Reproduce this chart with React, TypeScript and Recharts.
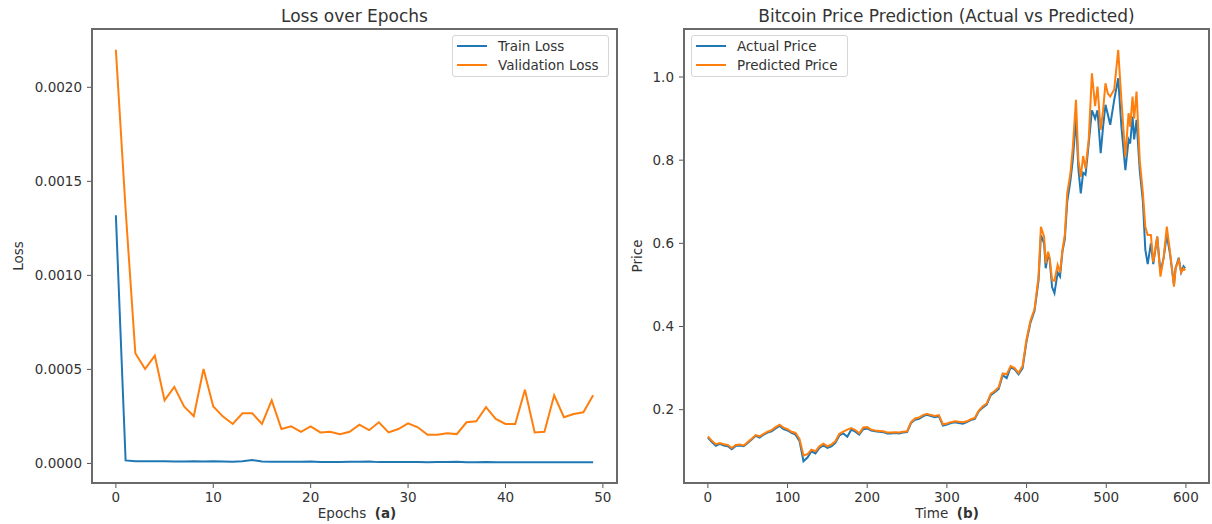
import React from 'react';
import { LineChart, Line, XAxis, YAxis, Legend } from 'recharts';

// ---- (a) loss per epoch ----
const trainLoss = [
  0.00132, 0.000016, 0.000012, 0.000011, 0.000011, 0.000011, 0.00001, 0.00001, 0.000011, 0.00001,
  0.000011, 0.00001, 0.000009, 0.000012, 0.000018, 0.00001, 0.000009, 0.000009, 0.000009, 0.000009,
  0.00001, 0.000008, 0.000007, 0.000008, 0.000009, 0.000009, 0.00001, 0.000007, 0.000007, 0.000008,
  0.000008, 0.000007, 0.000006, 0.000007, 0.000008, 0.000009, 0.000006, 0.000006, 0.000007, 0.000006,
  0.000006, 0.000006, 0.000006, 0.000006, 0.000006, 0.000006, 0.000006, 0.000006, 0.000006, 0.000006,
];
const valLoss = [
  0.0022, 0.00135, 0.000586, 0.000502, 0.000573, 0.000335, 0.000407, 0.000303, 0.000251, 0.000502,
  0.000303, 0.000249, 0.00021, 0.000267, 0.000267, 0.00021, 0.000335, 0.000183, 0.000197, 0.000168,
  0.000197, 0.000165, 0.000168, 0.000156, 0.000168, 0.000206, 0.000177, 0.000219, 0.000165, 0.000183,
  0.000213, 0.000192, 0.000152, 0.000152, 0.000161, 0.000156, 0.000219, 0.000224, 0.000299, 0.000237,
  0.00021, 0.00021, 0.000392, 0.000165, 0.000168, 0.000362, 0.000246, 0.000263, 0.000272, 0.000362,
];
const lossTicksX = [0, 10, 20, 30, 40, 50];
const lossTicksY = [0, 0.0005, 0.001, 0.0015, 0.002];

// ---- (b) price, actual vs predicted ----
const timeSteps = [
  0, 5, 10, 15, 20, 25, 30, 35, 40, 45,
  50, 55, 60, 65, 70, 75, 80, 85, 90, 95,
  100, 105, 110, 115, 120, 125, 130, 135, 140, 145,
  150, 155, 160, 165, 170, 175, 180, 185, 190, 195,
  200, 205, 210, 215, 220, 225, 230, 235, 240, 245,
  250, 255, 260, 265, 270, 275, 280, 285, 290, 295,
  300, 305, 310, 315, 320, 325, 330, 335, 340, 345,
  350, 355, 360, 365, 370, 375, 380, 385, 390, 395,
  400, 405, 410,
  415, 418, 422, 424, 427, 429, 432, 435, 439, 442,
  445, 448, 451, 455, 458, 462, 465, 468, 471, 474,
  478, 482, 486, 489, 493, 496, 499, 502, 505, 510,
  515, 519, 524, 528, 530, 533, 535, 538, 542, 546,
  549, 552, 556, 559, 564, 568, 572, 576, 580, 585,
  587, 591, 594, 597, 599,
];
const actualPrice = [
  0.133, 0.122, 0.113, 0.118, 0.114, 0.112, 0.105, 0.113, 0.114, 0.112,
  0.12, 0.128, 0.137, 0.133, 0.14, 0.145, 0.148, 0.155, 0.161, 0.153,
  0.15, 0.144, 0.14, 0.125, 0.076, 0.085, 0.1, 0.095, 0.108, 0.114,
  0.108, 0.112, 0.12, 0.138, 0.143, 0.135, 0.152, 0.147, 0.14, 0.153,
  0.155, 0.15, 0.148, 0.147, 0.146, 0.143, 0.143, 0.144, 0.143, 0.145,
  0.146, 0.168, 0.176, 0.178, 0.184, 0.188, 0.185, 0.182, 0.184, 0.162,
  0.164, 0.168, 0.17, 0.168, 0.166, 0.17, 0.175, 0.178, 0.196, 0.205,
  0.212, 0.235, 0.242, 0.25, 0.283, 0.276, 0.302, 0.297, 0.285, 0.3,
  0.365, 0.41, 0.438,
  0.51, 0.62, 0.6, 0.54, 0.575, 0.56, 0.495, 0.48, 0.53, 0.52,
  0.58, 0.61, 0.7, 0.75, 0.8, 0.9, 0.78, 0.72, 0.77, 0.765,
  0.84, 0.92, 0.9, 0.92, 0.817, 0.88, 0.933, 0.91, 0.885, 0.945,
  0.997, 0.881, 0.776, 0.849, 0.84, 0.905, 0.85, 0.897, 0.776, 0.7,
  0.585, 0.55, 0.6, 0.55, 0.616, 0.53, 0.565, 0.62, 0.575, 0.5,
  0.54, 0.565, 0.53, 0.545, 0.54,
];
const predictedPrice = [
  0.136, 0.125, 0.117, 0.12, 0.117, 0.115, 0.108, 0.115, 0.116, 0.114,
  0.122, 0.13, 0.139, 0.136, 0.142, 0.147, 0.151, 0.158, 0.164, 0.157,
  0.153, 0.147, 0.144, 0.13, 0.09, 0.093, 0.104, 0.1, 0.112, 0.118,
  0.112, 0.116, 0.124, 0.142, 0.147, 0.152, 0.156, 0.151, 0.143, 0.157,
  0.158, 0.152, 0.15, 0.149, 0.148, 0.145, 0.145, 0.146, 0.145, 0.147,
  0.148, 0.17, 0.179, 0.181, 0.187, 0.19, 0.187, 0.185, 0.187, 0.165,
  0.167, 0.17, 0.172, 0.171, 0.17, 0.172, 0.177, 0.18, 0.198, 0.208,
  0.215, 0.238, 0.245, 0.254, 0.287, 0.285, 0.305, 0.3, 0.288, 0.305,
  0.37, 0.415, 0.442,
  0.52, 0.64, 0.616, 0.552, 0.58, 0.565, 0.512, 0.51, 0.548, 0.53,
  0.584, 0.62, 0.72, 0.768, 0.83, 0.945, 0.8, 0.76, 0.81, 0.78,
  0.85, 1.009, 0.93, 0.977, 0.873, 0.92, 0.985, 0.96, 0.953, 0.97,
  1.065, 0.945, 0.808, 0.913, 0.88, 0.953, 0.9, 0.965, 0.8, 0.72,
  0.64, 0.62, 0.62, 0.555, 0.616, 0.52, 0.565, 0.64, 0.58, 0.496,
  0.54, 0.56, 0.53, 0.54, 0.535,
];
const priceTicksX = [0, 100, 200, 300, 400, 500, 600];
const priceTicksY = [0.2, 0.4, 0.6, 0.8, 1.0];

const lossData = trainLoss.map((v, i) => ({ epoch: i, train: v, val: valLoss[i] }));
const priceData = timeSteps.map((t, i) => ({ t, actual: actualPrice[i], predicted: predictedPrice[i] }));

const BLUE = '#1f77b4';
const ORANGE = '#ff7f0e';
const TEXT = '#333';
const FONT = 'DejaVu Sans, sans-serif';
const FS = 13.5;
const tickStyle = { fontSize: FS, fill: TEXT, fontFamily: FONT };

const BoxLegend = (props: any) => {
  const { payload = [] } = props;
  return (
    <div
      style={{
        width: 157,
        boxSizing: 'border-box',
        border: '1px solid #d6d6d6',
        borderRadius: 3,
        background: 'rgba(255,255,255,0.85)',
        padding: '1px 0 2px 4px',
        fontFamily: FONT,
      }}
    >
      {payload.map((entry: any) => (
        <div key={entry.value} style={{ display: 'flex', alignItems: 'center', height: 18.5 }}>
          <span style={{ display: 'inline-block', width: 30, height: 2, background: entry.color, marginRight: 11 }} />
          <span style={{ fontSize: FS, color: TEXT, whiteSpace: 'nowrap' }}>{entry.value}</span>
        </div>
      ))}
    </div>
  );
};

const Frame = ({ left, top, width, height }: { left: number; top: number; width: number; height: number }) => (
  <div
    style={{
      position: 'absolute',
      left: left - 1,
      top: top - 1,
      width: width + 2,
      height: height + 2,
      boxSizing: 'border-box',
      border: '2px solid #6a6a6a',
      pointerEvents: 'none',
    }}
  />
);

const Txt = ({ x, y, size = FS, rotate = 0, children }: any) => (
  <div
    style={{
      position: 'absolute',
      left: x,
      top: y,
      transform: `translate(-50%, -50%) rotate(${rotate}deg)`,
      fontSize: size,
      color: TEXT,
      whiteSpace: 'nowrap',
      fontFamily: FONT,
    }}
  >
    {children}
  </div>
);

export default function App() {
  return (
    <div style={{ position: 'absolute', left: 0, top: 0, width: 1212, height: 524, background: '#fff', fontFamily: FONT }}>
      {/* (a) Loss over Epochs */}
      <div style={{ position: 'absolute', left: 0, top: 0 }}>
        <LineChart width={640} height={524} data={lossData} margin={{ top: 29, right: 23, bottom: 0, left: 0 }}>
          <XAxis
            dataKey="epoch"
            type="number"
            domain={[-2.45, 51.45]}
            ticks={lossTicksX}
            allowDataOverflow
            height={41}
            tick={tickStyle}
            tickSize={5}
            tickMargin={4}
            axisLine={false}
            tickLine={{ stroke: '#555' }}
          />
          <YAxis
            type="number"
            domain={[-0.000104, 0.00231]}
            ticks={lossTicksY}
            allowDataOverflow
            width={92}
            tick={tickStyle}
            tickSize={5}
            tickMargin={5}
            axisLine={false}
            tickLine={{ stroke: '#555' }}
            tickFormatter={(v: number) => v.toFixed(4)}
          />
          <Legend
            layout="horizontal"
            verticalAlign="middle"
            align="center"
            content={<BoxLegend />}
            wrapperStyle={{ top: 35, left: 452, width: 157 }}
          />
          <Line type="linear" dataKey="train" name="Train Loss" stroke={BLUE} strokeWidth={2} dot={false} isAnimationActive={false} />
          <Line type="linear" dataKey="val" name="Validation Loss" stroke={ORANGE} strokeWidth={2} dot={false} isAnimationActive={false} />
        </LineChart>
      </div>
      <Frame left={92} top={29} width={525} height={454} />
      <Txt x={354.5} y={16} size={17}>Loss over Epochs</Txt>
      <Txt x={357} y={513}>
        Epochs&nbsp;&nbsp;<b>(a)</b>
      </Txt>
      <Txt x={18} y={256} rotate={-90}>Loss</Txt>

      {/* (b) Bitcoin price prediction */}
      <div style={{ position: 'absolute', left: 600, top: 0 }}>
        <LineChart width={612} height={524} data={priceData} margin={{ top: 29, right: 3, bottom: 0, left: 0 }}>
          <XAxis
            dataKey="t"
            type="number"
            domain={[-29.95, 628.95]}
            ticks={priceTicksX}
            allowDataOverflow
            height={41}
            tick={tickStyle}
            tickSize={5}
            tickMargin={4}
            axisLine={false}
            tickLine={{ stroke: '#555' }}
          />
          <YAxis
            type="number"
            domain={[0.0237, 1.1154]}
            ticks={priceTicksY}
            allowDataOverflow
            width={84}
            tick={tickStyle}
            tickSize={5}
            tickMargin={5}
            axisLine={false}
            tickLine={{ stroke: '#555' }}
            tickFormatter={(v: number) => v.toFixed(1)}
          />
          <Legend
            layout="horizontal"
            verticalAlign="middle"
            align="center"
            content={<BoxLegend />}
            wrapperStyle={{ top: 35, left: 91, width: 157 }}
          />
          <Line type="linear" dataKey="actual" name="Actual Price" stroke={BLUE} strokeWidth={2} dot={false} isAnimationActive={false} />
          <Line type="linear" dataKey="predicted" name="Predicted Price" stroke={ORANGE} strokeWidth={2} dot={false} isAnimationActive={false} />
        </LineChart>
      </div>
      <Frame left={684} top={29} width={525} height={454} />
      <Txt x={946.5} y={16} size={17}>Bitcoin Price Prediction (Actual vs Predicted)</Txt>
      <Txt x={947} y={513}>
        Time&nbsp;&nbsp;<b>(b)</b>
      </Txt>
      <Txt x={637} y={256} rotate={-90}>Price</Txt>
    </div>
  );
}
